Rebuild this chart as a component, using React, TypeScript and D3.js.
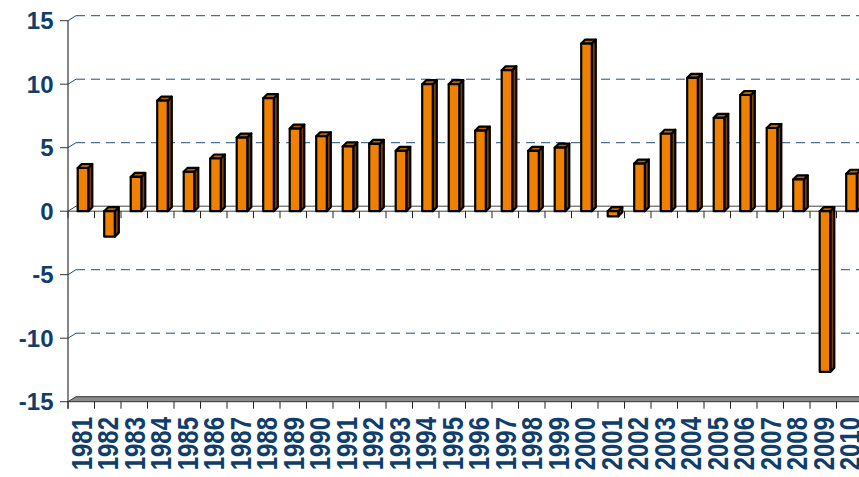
import React from "react";
import * as d3 from "d3";

const years: string[] = [
  "1981","1982","1983","1984","1985","1986","1987","1988","1989","1990",
  "1991","1992","1993","1994","1995","1996","1997","1998","1999","2000",
  "2001","2002","2003","2004","2005","2006","2007","2008","2009","2010",
];
const values: number[] = [
  3.4, -2.0, 2.7, 8.7, 3.1, 4.15, 5.8, 8.9, 6.5, 5.9,
  5.1, 5.3, 4.75, 10.0, 10.0, 6.35, 11.1, 4.75, 5.0, 13.2,
  -0.4, 3.75, 6.1, 10.5, 7.35, 9.15, 6.55, 2.5, -12.65, 2.95,
];
const yTicks: number[] = [-15, -10, -5, 0, 5, 10, 15];
const gridValues: number[] = [-10, -5, 5, 10, 15];

const W = 859;
const H = 477;
const X0 = 68;
const BAND = 26.5;
const WALL_DX = 8;
const WALL_DY = -5;
const BAR_DX = 4;
const BAR_DY = -4;
const NAVY = "#0f3d6c";

export default function App() {
  const x = d3
    .scaleBand<string>()
    .domain(years)
    .range([X0, X0 + BAND * years.length])
    .paddingInner(0)
    .paddingOuter(0);
  const y = d3.scaleLinear().domain([-15, 15]).range([401.7, 20.7]);
  const right = W + 20;
  const y0 = y(0);
  const yb = y(-15);

  const pts = (p: [number, number][]) => p.map((q) => q.join(",")).join(" ");

  return (
    <svg
      width={W}
      height={H}
      style={{ position: "absolute", left: 0, top: 0, background: "#fff" }}
      fontFamily="'Liberation Sans', Arial, sans-serif"
    >
      {/* gridlines on back wall */}
      {gridValues.map((v) => (
        <g key={"g" + v}>
          <line x1={X0} y1={y(v)} x2={X0 + WALL_DX} y2={y(v) + WALL_DY} stroke="#1f4e79" strokeWidth={1} />
          <line
            x1={X0 + WALL_DX}
            y1={y(v) + WALL_DY}
            x2={right}
            y2={y(v) + WALL_DY}
            stroke="#1f4e79"
            strokeWidth={1}
            strokeDasharray="9,6"
          />
        </g>
      ))}

      {/* bottom floor slab */}
      <polygon
        points={pts([
          [X0, yb],
          [right, yb],
          [right, yb + WALL_DY],
          [X0 + WALL_DX, yb + WALL_DY],
        ])}
        fill="#8c8c8c"
        stroke="#333"
        strokeWidth={1}
      />

      {/* zero floor plane */}
      <polygon
        points={pts([
          [X0, y0],
          [right, y0],
          [right, y0 + WALL_DY],
          [X0 + WALL_DX, y0 + WALL_DY],
        ])}
        fill="#ffffff"
        stroke="#444"
        strokeWidth={1}
      />

      {/* category ticks at zero and bottom */}
      {years.map((yr) => {
        const tx = x(yr)!;
        return (
          <g key={"t" + yr}>
            <line x1={tx} y1={y0} x2={tx} y2={y0 + 7} stroke="#222" strokeWidth={1} />
            <line x1={tx} y1={yb} x2={tx} y2={yb + 7} stroke="#222" strokeWidth={1} />
          </g>
        );
      })}

      {/* bars */}
      {years.map((yr, i) => {
        const v = values[i];
        const bx1 = x(yr)! + 9.7;
        const bx2 = bx1 + 10.6;
        const ytop = v >= 0 ? y(v) : y0;
        const ybot = v >= 0 ? y0 : y(v);
        const top: [number, number][] = [
          [bx1, ytop],
          [bx2, ytop],
          [bx2 + BAR_DX, ytop + BAR_DY],
          [bx1 + BAR_DX, ytop + BAR_DY],
        ];
        const side: [number, number][] = [
          [bx2, ytop],
          [bx2 + BAR_DX, ytop + BAR_DY],
          [bx2 + BAR_DX, ybot + BAR_DY],
          [bx2, ybot],
        ];
        return (
          <g key={"b" + yr} stroke="#000" strokeWidth={2.2} strokeLinejoin="round">
            <polygon points={pts(side)} fill="#7a3e00" />
            <polygon points={pts(top)} fill="#b86000" />
            <rect x={bx1} y={ytop} width={bx2 - bx1} height={ybot - ytop} fill="#f08000" />
          </g>
        );
      })}

      {/* y axis */}
      <line x1={X0} y1={y(15)} x2={X0} y2={yb + 7} stroke="#333" strokeWidth={1.2} />
      {yTicks.map((v) => (
        <g key={"y" + v}>
          <line x1={X0 - 8} y1={y(v)} x2={X0} y2={y(v)} stroke="#333" strokeWidth={1} />
          <text
            x={53.5}
            y={y(v)}
            dy="0.36em"
            textAnchor="end"
            fontSize={24}
            fontWeight="bold"
            fill={NAVY}
          >
            {v}
          </text>
        </g>
      ))}

      {/* x labels */}
      {years.map((yr) => {
        const cx = x(yr)! + BAND / 2;
        return (
          <text
            key={"l" + yr}
            transform={`translate(${cx + 10.5},${417}) rotate(-90) scale(1,1.2)`}
            textAnchor="end"
            fontSize={24}
            fontWeight="bold"
            fill={NAVY}
          >
            {yr}
          </text>
        );
      })}
    </svg>
  );
}
